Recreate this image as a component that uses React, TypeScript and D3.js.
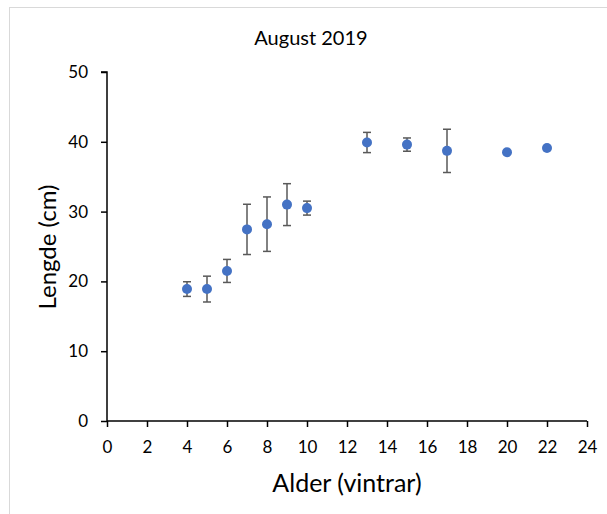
import React, { useEffect, useRef } from 'react';
import * as d3 from 'd3';

// Alder (vintrar) and mean length (cm), with standard deviation
const ages = [4, 5, 6, 7, 8, 9, 10, 13, 15, 17, 20, 22];
const lengths = [18.9, 18.9, 21.5, 27.45, 28.2, 31.0, 30.5, 39.9, 39.6, 38.7, 38.5, 39.1];
const errors = [1.05, 1.85, 1.65, 3.6, 3.9, 3.0, 1.0, 1.45, 0.95, 3.1, 0, 0];

const xTicks = d3.range(0, 25, 2);
const yTicks = [0, 10, 20, 30, 40, 50];

const width = 607;
const height = 514;
const font = 'Lato, Calibri, sans-serif';

export default function App() {
  const ref = useRef<SVGSVGElement>(null);

  useEffect(() => {
    const svg = d3.select(ref.current);
    svg.selectAll('*').remove();

    const left = 107, right = 587, top = 72, bottom = 421;

    const x = d3.scaleLinear().domain([0, 24]).range([left, right]);
    const y = d3.scaleLinear().domain([0, 50]).range([bottom, top]);

    // chart area frame
    svg.append('rect')
      .attr('x', 9.5).attr('y', 7.5)
      .attr('width', 620).attr('height', 520)
      .attr('fill', 'white')
      .attr('stroke', '#d9d9d9');

    svg.append('text')
      .attr('x', 311).attr('y', 45)
      .attr('text-anchor', 'middle')
      .style('font-family', font).style('font-size', '20px')
      .attr('fill', '#000')
      .text('August 2019');

    const xAxis = svg.append('g')
      .attr('transform', `translate(0,${bottom})`)
      .call(d3.axisBottom(x).tickValues(xTicks).tickSize(6).tickPadding(14));
    const yAxis = svg.append('g')
      .attr('transform', `translate(${left},0)`)
      .call(d3.axisLeft(y).tickValues(yTicks).tickSize(6).tickPadding(13));

    [xAxis, yAxis].forEach((g) => {
      g.select('.domain').attr('stroke', '#000').attr('stroke-width', 1.5);
      g.selectAll('.tick line').attr('stroke', '#000').attr('stroke-width', 1.5);
      g.selectAll('.tick text')
        .attr('fill', '#000')
        .style('font-family', font)
        .style('font-size', '17px');
    });
    // plain axis lines, like Excel
    xAxis.select('.domain').attr('d', `M${left},0H${right}`);
    yAxis.select('.domain').attr('d', `M-6,${top}H0V${bottom}`);

    svg.append('text')
      .attr('x', 347).attr('y', 492)
      .attr('text-anchor', 'middle')
      .style('font-family', font).style('font-size', '25px')
      .text('Alder (vintrar)');

    svg.append('text')
      .attr('transform', `translate(56,247) rotate(-90)`)
      .attr('text-anchor', 'middle')
      .style('font-family', font).style('font-size', '24px')
      .text('Lengde (cm)');

    const idx = d3.range(ages.length).filter((i) => errors[i] > 0);
    const bars = svg.append('g').attr('stroke', '#595959').attr('stroke-width', 1.5);
    bars.selectAll('line.v').data(idx).enter().append('line')
      .attr('x1', (i) => x(ages[i])).attr('x2', (i) => x(ages[i]))
      .attr('y1', (i) => y(lengths[i] + errors[i]))
      .attr('y2', (i) => y(lengths[i] - errors[i]));
    [1, -1].forEach((s) => {
      bars.selectAll(`line.c${s}`).data(idx).enter().append('line')
        .attr('x1', (i) => x(ages[i]) - 4).attr('x2', (i) => x(ages[i]) + 4)
        .attr('y1', (i) => y(lengths[i] + s * errors[i]))
        .attr('y2', (i) => y(lengths[i] + s * errors[i]));
    });

    svg.append('g').selectAll('circle')
      .data(ages).enter().append('circle')
      .attr('cx', (d) => x(d))
      .attr('cy', (_, i) => y(lengths[i]))
      .attr('r', 5)
      .attr('fill', '#4472C4');
  }, []);

  return (
    <div style={{ position: 'fixed', left: 0, top: 0, width, height, background: 'white' }}>
      <svg ref={ref} width={width} height={height} style={{ display: 'block' }} />
    </div>
  );
}
